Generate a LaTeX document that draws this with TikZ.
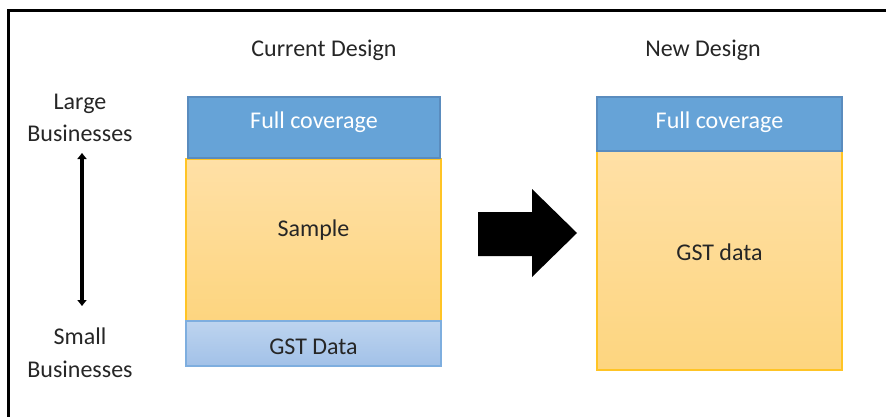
\documentclass[tikz,border=0pt]{standalone}
\usepackage{fontspec}
\setmainfont{Carlito}
\usetikzlibrary{arrows.meta}
\definecolor{fullblue}{HTML}{66A3D7}
\definecolor{fullblueline}{HTML}{5A8CBE}
\definecolor{sampletop}{HTML}{FFE0A6}
\definecolor{samplebot}{HTML}{FDD57F}
\definecolor{sampleline}{HTML}{FFC425}
\definecolor{gsttop}{HTML}{BDD4EF}
\definecolor{gstbot}{HTML}{A2C1E8}
\definecolor{gstline}{HTML}{7EAEDF}
\definecolor{labeltext}{HTML}{262626}
\tikzset{
  txt/.style={font=\fontsize{24}{29}\selectfont, text=labeltext, align=center,
    inner sep=0pt, yshift=-2pt},
  fullbox/.style={draw=fullblueline, line width=1.2pt, fill=fullblue, inner sep=0pt},
  samplebox/.style={draw=sampleline, line width=1.5pt, top color=sampletop,
    bottom color=samplebot, inner sep=0pt},
  gstbox/.style={draw=gstline, line width=1.5pt, top color=gsttop,
    bottom color=gstbot, inner sep=0pt},
}
\begin{document}
\begin{tikzpicture}[x=1pt, y=-1pt]
\useasboundingbox (0,0) rectangle (886,417);
% outer frame (only top and left edges fall inside the page)
\begin{scope}
  \clip (0,0) rectangle (886,417);
  \draw[line width=3pt] (8,11) rectangle (900,430);
\end{scope}

% headings
\node[txt] (cur) at (324,48) {Current Design};
\node[txt] (new) at (703,48) {New Design};

% size axis
\node[txt] (large) at (80,102) {Large};
\node[txt] (largeb) at (80,131) {Businesses};
\node[txt] (small) at (80,334) {Small};
\node[txt] (smallb) at (80,367) {Businesses};
\coordinate (axtop) at (82,153);
\coordinate (axbot) at (82,306);
\draw[line width=3.5pt, {Triangle[length=6pt,width=9pt]}-{Triangle[length=6pt,width=9pt]}] (axtop) -- (axbot);

% current design stack
\node[samplebox, minimum width=255pt, minimum height=162pt] (sample) at (313.5,240) {};
\node[fullbox, minimum width=252pt, minimum height=61pt] (fullL) at (314,127.5) {};
\node[gstbox, minimum width=255pt, minimum height=45pt] (gstL) at (313.5,343.5) {};
\node[txt, text=white] (fullLt) at (314,120) {Full coverage};
\node[txt] (samplet) at (313.5,228) {Sample};
\node[txt] (gstLt) at (313.5,345) {GST Data};

% new design stack
\node[samplebox, minimum width=245pt, minimum height=219pt] (gstR) at (719.5,260.5) {};
\node[fullbox, minimum width=245pt, minimum height=54pt] (fullR) at (719.5,124) {};
\node[txt, text=white] (fullRt) at (719.5,120) {Full coverage};
\node[txt] (gstRt) at (719.5,250) {GST data};

% transition arrow
\fill (478,212) -- (532,212) -- (532,189) -- (577,233) -- (532,277)
  -- (532,256) -- (478,256) -- cycle;
\end{tikzpicture}
\end{document}
